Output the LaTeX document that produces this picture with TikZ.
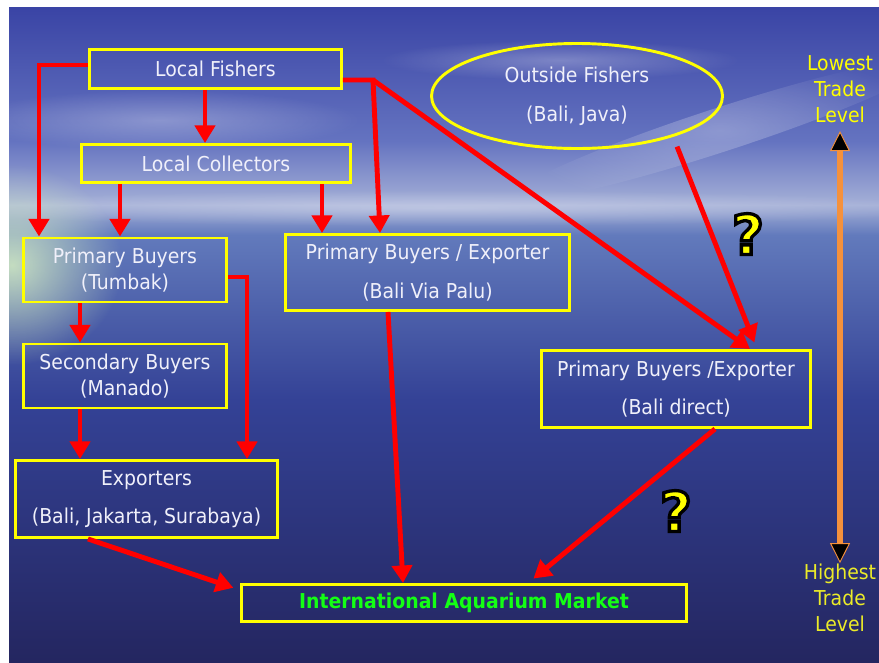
\documentclass[tikz,border=0pt]{standalone}
\usepackage{fontspec}
\setmainfont{DejaVu Sans}[FakeStretch=0.92]
\newfontfamily\queryfont{DejaVu Sans}[UprightFont={* Bold}, FakeBold=6]
\usetikzlibrary{arrows.meta,shapes.geometric,fadings}

\definecolor{skytop}{RGB}{58,68,165}
\definecolor{skyhi}{RGB}{100,115,192}
\definecolor{horizon}{RGB}{165,176,215}
\definecolor{seaone}{RGB}{98,122,188}
\definecolor{seatwo}{RGB}{52,66,150}
\definecolor{seabot}{RGB}{36,38,96}
\definecolor{boxyellow}{RGB}{255,255,0}
\definecolor{highyellow}{RGB}{235,235,40}
\definecolor{textwhite}{RGB}{240,240,250}
\definecolor{marketgreen}{RGB}{20,255,20}
\definecolor{levelorange}{RGB}{245,145,60}
\definecolor{glow}{RGB}{215,240,195}

\pgfdeclareverticalshading{oceansky}{100bp}{color(0bp)=(seabot); color(25bp)=(seabot);
  color(45bp)=(seatwo); color(57.6bp)=(seaone); color(59.9bp)=(horizon);
  color(64.8bp)=(skyhi); color(75bp)=(skytop); color(100bp)=(skytop)}
\tikzfading[name=softblob, inner color=transparent!0, outer color=transparent!100]

\tikzset{
  stage/.style={draw=boxyellow, line width=2.5pt, text=textwhite, align=center,
    inner sep=0pt, font=\fontsize{17.5}{22}\selectfont},
  roomy/.style={font=\fontsize{17.5}{33}\selectfont},
  flow/.style={draw=red, line width=4.2pt, -{Triangle[width=17pt,length=15pt]}},
  levelnote/.style={text=boxyellow, align=center, inner sep=0pt, outer sep=0pt,
    font=\fontsize{17.5}{22}\selectfont},
  levelarrow/.style={draw=levelorange, line width=5pt,
    {Triangle[width=17pt,length=17pt,fill=black,line width=0.8pt]}-{Triangle[width=17pt,length=17pt,fill=black,line width=0.8pt]}},
  query/.style={text=boxyellow, inner sep=0pt, font=\fontsize{47}{47}\queryfont},
  cloud/.style={fill=white, fill opacity=0.28, path fading=softblob}
}

\begin{document}
\begin{tikzpicture}[x=0.03cm,y=-0.03cm]
\useasboundingbox (0,0) rectangle (879,662);
\fill[white] (0,0) rectangle (879,662);
\fill[shading=oceansky] (9,7) rectangle (879,662);

% sky and sea light
\begin{scope}
\clip (9,7) rectangle (879,662);
\fill[cloud] (160,120) ellipse[x radius=200, y radius=30];
\fill[cloud, rotate around={18:(720,130)}] (720,130) ellipse[x radius=220, y radius=22];
\fill[cloud] (560,60) ellipse[x radius=180, y radius=20];
\fill[cloud, fill opacity=0.3] (440,208) ellipse[x radius=520, y radius=18];
\fill[glow, fill opacity=0.85, path fading=softblob] (12,265) ellipse[x radius=110, y radius=100];
\end{scope}

% stages
\node[stage, minimum width=7.56cm, minimum height=1.17cm] (fishers) at (215.5,69) {Local Fishers};
\node[stage, minimum width=8.07cm, minimum height=1.14cm] (collectors) at (216,163.5) {Local Collectors};
\node[stage, minimum width=6.09cm, minimum height=1.92cm] (tumbak) at (125,270) {Primary Buyers\\(Tumbak)};
\node[stage, minimum width=6.09cm, minimum height=1.92cm] (manado) at (125,376) {Secondary Buyers\\(Manado)};
\node[stage, roomy, minimum width=7.86cm, minimum height=2.31cm] (exporters) at (146.5,499) {Exporters\\(Bali, Jakarta, Surabaya)};
\node[stage, roomy, minimum width=8.52cm, minimum height=2.28cm] (palu) at (427.5,272.5) {Primary Buyers / Exporter\\(Bali Via Palu)};
\node[stage, roomy, ellipse, minimum width=8.73cm, minimum height=3.15cm] (outside) at (577,96) {Outside Fishers\\(Bali, Java)};
\node[stage, roomy, minimum width=8.07cm, minimum height=2.31cm] (direct) at (676,389) {Primary Buyers /Exporter\\(Bali direct)};
\node[stage, minimum width=13.35cm, minimum height=1.11cm, text=marketgreen, font=\fontsize{17.5}{22}\selectfont\bfseries] (market) at (464,603) {International Aquarium Market};

% bends and columns
\coordinate (lf-left) at (39,65);
\coordinate (lf-right) at (373,80);
\coordinate (tb-right) at (247,277);
\coordinate (col-a) at (80,0);
\coordinate (col-b) at (120,0);
\coordinate (col-c) at (205,0);
\coordinate (col-d) at (322,0);
\coordinate (col-e) at (380,0);
\coordinate (col-f) at (750,0);
\coordinate (col-g) at (757,0);
\coordinate (col-h) at (88,0);
\coordinate (col-i) at (388,0);
\coordinate (col-j) at (403,0);
\coordinate (col-k) at (715,0);
\coordinate (col-l) at (528,0);
\coordinate (row-m) at (0,590);

% trade flows
\draw[flow] (fishers.west |- lf-left) -- (lf-left) -- (lf-left |- tumbak.north);
\draw[flow] (fishers.south -| col-c) -- (collectors.north -| col-c);
\draw[flow] (collectors.south -| col-b) -- (tumbak.north -| col-b);
\draw[flow] (collectors.south -| col-d) -- (palu.north -| col-d);
\draw[flow] (fishers.east |- lf-right) -- (lf-right) -- (palu.north -| col-e);
\draw[flow] (lf-right) -- (direct.north -| col-f);
\draw[flow, shorten <=9pt, shorten >=6pt] (outside.-23) -- (direct.north -| col-g);
\draw[flow] (tumbak.south -| col-a) -- (manado.north -| col-a);
\draw[flow] (manado.south -| col-a) -- (exporters.north -| col-a);
\draw[flow] (tumbak.east |- tb-right) -- (tb-right) -- (tb-right |- exporters.north);
\draw[flow, shorten >=6pt] (exporters.south -| col-h) -- (market.west |- row-m);
\draw[flow] (palu.south -| col-i) -- (market.north -| col-j);
\draw[flow, shorten >=6pt] (direct.south -| col-k) -- (market.north -| col-l);

% unknown links (yellow glyph, black stroke)
\node[query] (query1) at (748,234) {\special{pdf:literal direct 0 0 0 RG}?};
\node[query] (query2) at (676,511) {\special{pdf:literal direct 0 0 0 RG}?};

% trade level scale
\node[levelnote] (lowest) at (840,89) {Lowest\\Trade\\Level};
\node[levelnote, text=highyellow] (highest) at (840,598) {Highest\\Trade\\Level};
\draw[levelarrow, shorten <=7.5pt, shorten >=1pt] (lowest.south) -- (highest.north);
\end{tikzpicture}
\end{document}
